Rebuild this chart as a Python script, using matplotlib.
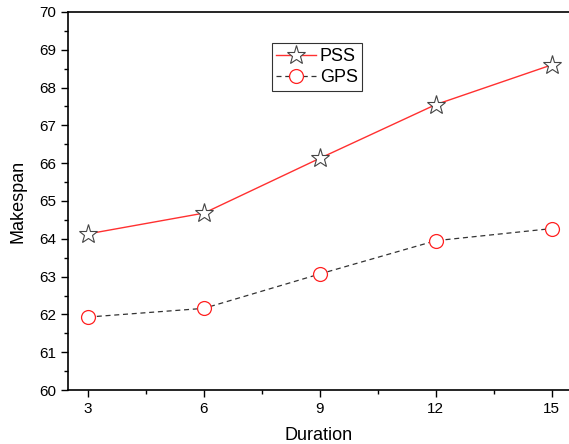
import matplotlib
matplotlib.use("Agg")
import matplotlib.pyplot as plt
from matplotlib.ticker import MultipleLocator

plt.rcParams['font.family'] = ['Liberation Sans', 'DejaVu Sans']

duration = [3, 6, 9, 12, 15]
pss = [64.13, 64.68, 66.13, 67.55, 68.60]
gps = [61.93, 62.16, 63.07, 63.95, 64.27]

fig = plt.figure(figsize=(5.69, 4.44), dpi=100)
ax = fig.add_axes([0.1195, 0.1216, 0.8805, 0.8514])

ax.plot(duration, pss, color="#ff3030", lw=1.0, marker="*", markersize=14,
        markerfacecolor="white", markeredgecolor="#444444", markeredgewidth=0.8,
        label="PSS")
ax.plot(duration, gps, color="#333333", lw=0.9, ls=(0, (4, 3)), marker="o",
        markersize=10, markerfacecolor="white", markeredgecolor="#ff2020",
        markeredgewidth=0.9, label="GPS")

ax.set_xlim(2.48, 15.45)
ax.set_ylim(60, 70)
ax.set_xticks(duration)
ax.xaxis.set_minor_locator(MultipleLocator(1.5))
ax.yaxis.set_major_locator(MultipleLocator(1))
ax.yaxis.set_minor_locator(MultipleLocator(0.5))
ax.tick_params(which="major", direction="out", length=5, width=1, labelsize=11)
ax.tick_params(which="minor", direction="out", length=3, width=1)
ax.spines["right"].set_visible(False)
for s in ["left", "bottom", "top"]:
    ax.spines[s].set_linewidth(1.2)

ax.set_xlabel("Duration", fontsize=13, labelpad=8)
ax.set_ylabel("Makespan", fontsize=13, labelpad=9)

leg = ax.legend(loc="upper left", bbox_to_anchor=(0.407, 0.917), fontsize=13,
                frameon=True, fancybox=False, edgecolor="black",
                borderaxespad=0, handlelength=2.2, borderpad=0.25,
                labelspacing=0.25, handletextpad=0.2)
leg.get_frame().set_linewidth(0.8)

fig.savefig("out.png", dpi=100)
